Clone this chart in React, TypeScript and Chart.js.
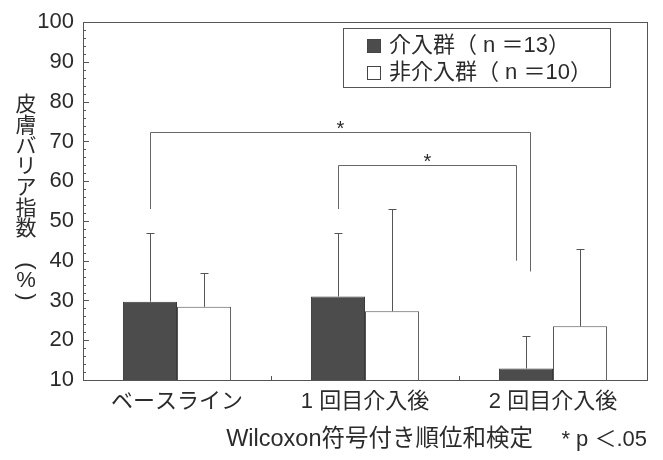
import React, { useEffect, useRef } from 'react';
import { Chart, registerables } from 'chart.js';

Chart.register(...registerables);

// ---- data ----
const categories = ['ベースライン', '1 回目介入後', '2 回目介入後'];
const interventionLabel = '介入群（ n ＝13）';
const controlLabel = '非介入群（ n ＝10）';
const interventionMeans = [29.7, 31.0, 12.9];
const interventionSD = [17.3, 16.0, 8.1];
const controlMeans = [28.4, 27.3, 23.5];
const controlSD = [8.6, 25.7, 19.5];
const yMin = 10;
const yMax = 100;
const yStep = 10;
const yTitleChars = ['皮', '膚', 'バ', 'リ', 'ア', '指', '数'];
const yTitleUnit = ['(', '%', ')'];
const footnoteTest = 'Wilcoxon符号付き順位和検定';
const footnoteSig = '* p ＜.05';
// significance brackets (category indices and values on the y axis)
const bracketFrom = [0, 1];
const bracketTo = [2, 2];
const bracketTop = [72.5, 64.2];
const bracketLeftEnd = [53, 53];
const bracketRightEnd = [37.3, 40];
const bracketMark = ['*', '*'];

const FONT = "'Liberation Sans', 'Noto Sans CJK JP', sans-serif";
const TEXT = '#2b2b2b';
const LINE = '#555555';
const DARK = '#4c4c4c';

const bracketRightShift = [0.074, -0.19];

const overlayPlugin = {
  id: 'overlay',
  afterDatasetsDraw(chart: any) {
    const { ctx, chartArea, scales } = chart;
    const xs = scales.x;
    const ys = scales.y;
    const { left, right, top, bottom } = chartArea;
    ctx.save();

    // error bars
    const sds = [interventionSD, controlSD];
    chart.data.datasets.forEach((ds: any, di: number) => {
      const meta = chart.getDatasetMeta(di);
      meta.data.forEach((el: any, i: number) => {
        const v = ds.data[i];
        const yTop = Math.round(ys.getPixelForValue(v + sds[di][i])) + 0.5;
        const x = Math.round(el.x) + 0.5;
        ctx.strokeStyle = LINE;
        ctx.lineWidth = 1;
        ctx.beginPath();
        ctx.moveTo(x, el.y);
        ctx.lineTo(x, yTop);
        ctx.moveTo(x - 4, yTop);
        ctx.lineTo(x + 4, yTop);
        ctx.stroke();
      });
    });

    // frame
    ctx.strokeStyle = LINE;
    ctx.lineWidth = 1;
    ctx.strokeRect(Math.round(left) + 0.5, Math.round(top) + 0.5, Math.round(right - left), Math.round(bottom - top));

    // y ticks (inside)
    for (let v = yMin; v <= yMax; v += 2) {
      const y = Math.round(ys.getPixelForValue(v)) + 0.5;
      const len = v % 10 === 0 ? 6 : 3;
      ctx.beginPath();
      ctx.moveTo(left, y);
      ctx.lineTo(left + len, y);
      ctx.stroke();
    }
    // x ticks between categories (inside)
    for (let i = 0; i < categories.length - 1; i++) {
      const x = Math.round((xs.getPixelForValue(i) + xs.getPixelForValue(i + 1)) / 2) + 0.5;
      ctx.beginPath();
      ctx.moveTo(x, bottom);
      ctx.lineTo(x, bottom - 4);
      ctx.stroke();
    }

    // brackets
    const meta0 = chart.getDatasetMeta(0);
    for (let b = 0; b < bracketFrom.length; b++) {
      const e1 = meta0.data[bracketFrom[b]];
      const e2 = meta0.data[bracketTo[b]];
      const x1 = Math.round(e1.x) + 0.5;
      const x2 = Math.round(e2.x + bracketRightShift[b] * e2.width) + 0.5;
      const yT = Math.round(ys.getPixelForValue(bracketTop[b])) + 0.5;
      const yL = ys.getPixelForValue(bracketLeftEnd[b]);
      const yR = ys.getPixelForValue(bracketRightEnd[b]);
      ctx.strokeStyle = '#666';
      ctx.beginPath();
      ctx.moveTo(x1, yL);
      ctx.lineTo(x1, yT);
      ctx.lineTo(x2, yT);
      ctx.lineTo(x2, yR);
      ctx.stroke();
      ctx.font = `20px ${FONT}`;
      ctx.fillStyle = TEXT;
      ctx.textAlign = 'center';
      ctx.textBaseline = 'alphabetic';
      const m = ctx.measureText(bracketMark[b]);
      const off = (m.actualBoundingBoxAscent - m.actualBoundingBoxDescent) / 2;
      ctx.fillText(bracketMark[b], (x1 + x2) / 2, yT - 8 + off);
    }

    // legend
    const lx = right - 304;
    const ly = top + 6;
    const lw = 267;
    const lh = 59;
    ctx.fillStyle = '#fff';
    ctx.fillRect(lx, ly, lw, lh);
    ctx.strokeStyle = LINE;
    ctx.strokeRect(Math.round(lx) + 0.5, Math.round(ly) + 0.5, lw, lh);
    const rows = [ly + 17, ly + 44];
    chart.data.datasets.forEach((ds: any, di: number) => {
      const cy = rows[di];
      const sx = Math.round(lx + 24) + 0.5;
      const sy = Math.round(cy - 6) + 0.5;
      ctx.fillStyle = ds.backgroundColor;
      ctx.fillRect(sx, sy, 13, 13);
      ctx.strokeStyle = '#444';
      ctx.strokeRect(sx, sy, 13, 13);
      ctx.fillStyle = TEXT;
      ctx.font = `22px ${FONT}`;
      ctx.textAlign = 'left';
      ctx.textBaseline = 'middle';
      ctx.fillText(ds.label, lx + 46, cy + 1);
    });

    // y title (vertical)
    ctx.fillStyle = TEXT;
    ctx.textAlign = 'center';
    ctx.textBaseline = 'middle';
    ctx.font = `21px ${FONT}`;
    yTitleChars.forEach((c, i) => {
      ctx.fillText(c, 26, 105.5 + i * 20.7);
    });
    ctx.font = `22px ${FONT}`;
    const unitY = [266, 281, 297];
    yTitleUnit.forEach((c, i) => {
      if (c === '(' || c === ')') {
        ctx.save();
        ctx.translate(26, unitY[i]);
        ctx.rotate(Math.PI / 2);
        ctx.fillText(c, 0, 0);
        ctx.restore();
      } else {
        ctx.fillText(c, 26, unitY[i]);
      }
    });

    // footnote
    ctx.textAlign = 'right';
    ctx.textBaseline = 'middle';
    ctx.font = `23.5px ${FONT}`;
    ctx.fillText(footnoteTest, 533, 440);
    ctx.font = `22px ${FONT}`;
    ctx.fillText(footnoteSig, 647, 440);

    ctx.restore();
  },
};

export default function App() {
  const ref = useRef<HTMLCanvasElement | null>(null);
  useEffect(() => {
    if (!ref.current) return;
    const chart = new Chart(ref.current, {
      type: 'bar',
      data: {
        labels: categories,
        datasets: [
          {
            label: interventionLabel,
            data: interventionMeans,
            backgroundColor: DARK,
            borderColor: '#3a3a3a',
            borderWidth: 1,
            categoryPercentage: 0.575,
            barPercentage: 1,
          },
          {
            label: controlLabel,
            data: controlMeans,
            backgroundColor: '#ffffff',
            borderColor: '#555555',
            borderWidth: 1,
            categoryPercentage: 0.575,
            barPercentage: 1,
          },
        ],
      },
      options: {
        responsive: false,
        animation: false,
        events: [],
        layout: { padding: { top: 17, right: 16, left: 0, bottom: 0 } },
        plugins: { legend: { display: false }, tooltip: { enabled: false } },
        scales: {
          x: {
            grid: { display: false, drawTicks: false },
            border: { display: false },
            ticks: { font: { family: FONT, size: 22 }, color: TEXT, padding: 9 },
            afterFit: (s: any) => {
              s.height = 80;
            },
          },
          y: {
            min: yMin,
            max: yMax,
            grid: { display: false, drawTicks: false },
            border: { display: false },
            ticks: { stepSize: yStep, font: { family: FONT, size: 22 }, color: TEXT, padding: 9 },
            afterFit: (s: any) => {
              s.width = 83;
            },
          },
        },
      },
      plugins: [overlayPlugin],
    } as any);
    return () => chart.destroy();
  }, []);
  return (
    <div style={{ position: 'fixed', left: 0, top: 0, width: 663, height: 460, background: '#fff' }}>
      <canvas ref={ref} width={663} height={460} style={{ display: 'block' }} />
    </div>
  );
}
